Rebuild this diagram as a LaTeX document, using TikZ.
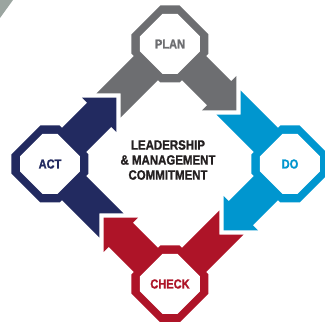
\documentclass[tikz,border=0pt]{standalone}
\usepackage{fontspec}
\setmainfont{Liberation Sans}[FakeStretch=0.85, BoldFeatures={FakeBold=1.2}]

\definecolor{plangray}{RGB}{109,110,113}
\definecolor{doblue}{RGB}{0,150,207}
\definecolor{checkred}{RGB}{174,20,40}
\definecolor{actnavy}{RGB}{34,42,96}
\definecolor{textdark}{RGB}{35,31,32}
\definecolor{cornergray}{RGB}{155,165,160}

\tikzset{
  steplabel/.style={font=\fontsize{13}{15}\selectfont\bfseries, inner sep=0pt},
  centretext/.style={font=\fontsize{13.5}{15}\selectfont\bfseries, align=center, text=textdark, inner sep=0pt}
}

\begin{document}
\begin{tikzpicture}[x=1pt,y=1pt]
\useasboundingbox (0,0) rectangle (325,322);
\fill[cornergray] (0,322) -- (13,322) -- (0,304) -- cycle;
\foreach \vx/\vy/\ang/\col/\lab/\nm in {170/278/-45/plangray/PLAN/plan, 290/158/225/doblue/DO/do, 170/38/135/checkred/CHECK/check, 50/158/45/actnavy/ACT/act}{
  \begin{scope}[shift={(\vx,\vy)}]
    % band: notched tail in, arrow head out
    \fill[\col, rotate=\ang] (-17,17) -- (69.5,17) -- (69.5,24.5) -- (94,0) -- (69.5,-24.5) -- (69.5,-17) -- (17,-17) -- (17,-87) -- (0,-70) -- (-17,-87) -- cycle;
    % octagon frame
    \fill[\col] (38.5,9.6) -- (9.6,38.5) -- (-9.6,38.5) -- (-38.5,9.6) -- (-38.5,-9.6) -- (-9.6,-38.5) -- (9.6,-38.5) -- (38.5,-9.6) -- cycle;
    \fill[white] (30,7.5) -- (7.5,30) -- (-7.5,30) -- (-30,7.5) -- (-30,-7.5) -- (-7.5,-30) -- (7.5,-30) -- (30,-7.5) -- cycle;
    \node[steplabel, text=\col] (\nm) at (0,0) {\lab};
  \end{scope}
}
\node[centretext] (commit) at (168,162) {LEADERSHIP\\\& MANAGEMENT\\COMMITMENT};
\end{tikzpicture}
\end{document}
